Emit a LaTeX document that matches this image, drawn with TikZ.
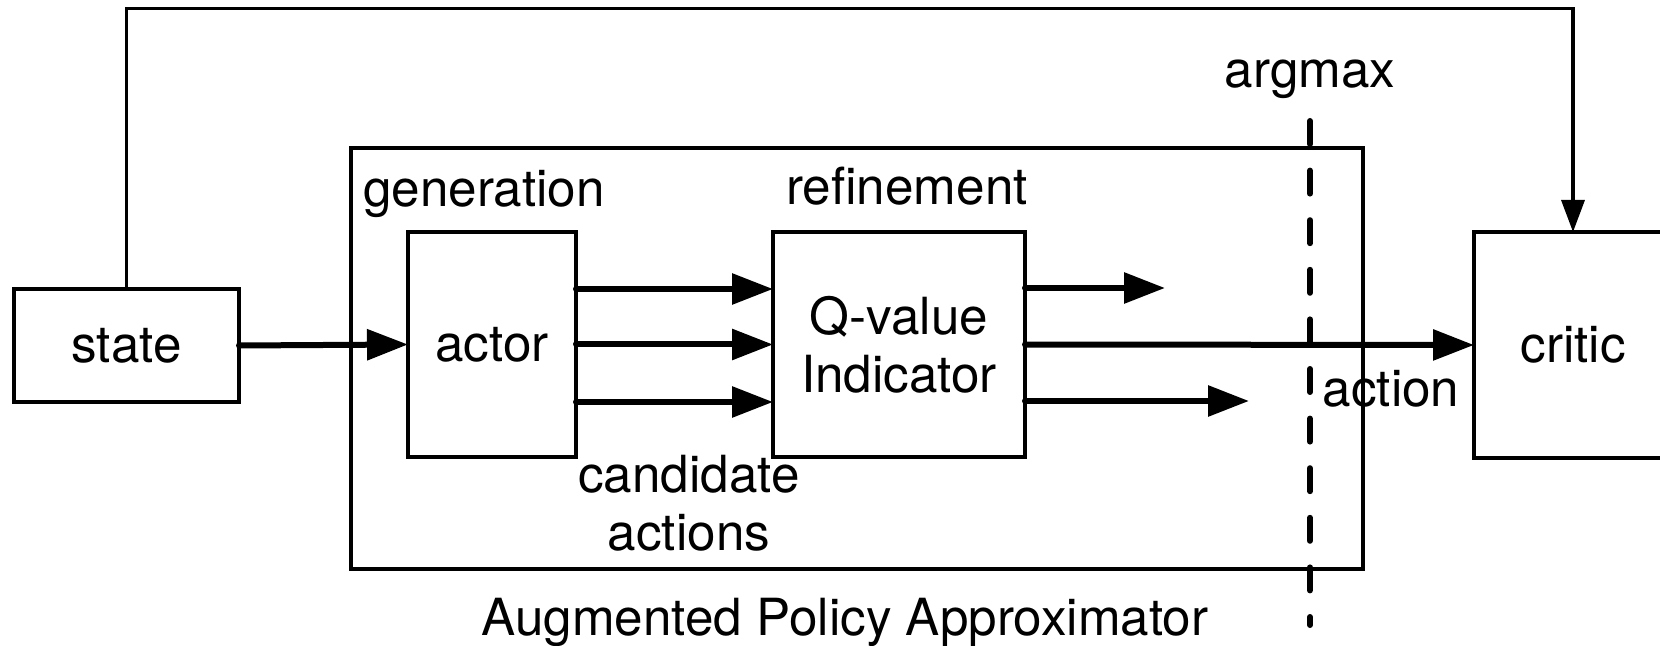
\documentclass[tikz,border=0pt]{standalone}
\usepackage{fontspec}
\setmainfont{TeX Gyre Heros}
\usetikzlibrary{arrows.meta}
\begin{document}
\begin{tikzpicture}[x=0.5pt,y=-0.5pt,
  every node/.style={font=\fontsize{25.6}{29}\selectfont, inner sep=0pt, outer sep=0pt},
  blk/.style={draw, line width=1.7pt, rectangle, align=center},
  thick arrow/.style={line width=3pt, line cap=round, -{Triangle[length=20.5pt,width=15pt]}},
  thin arrow/.style={line width=1.7pt, -{Triangle[length=16pt,width=11.5pt]}},
  lbl/.style={anchor=base}
]
\useasboundingbox (0,0) rectangle (1660,646);
% outer box
\node[blk, minimum width=506pt, minimum height=210.5pt] (apa) at (857,358.5) {};
% blocks
\node[blk, minimum width=112.5pt, minimum height=56.5pt] (state) at (126.5,345.5) {state};
\node[blk, minimum width=84pt, minimum height=112.5pt] (actor) at (492,344.5) {actor};
\node[blk, minimum width=126pt, minimum height=112.5pt] (qv) at (899,344.5) {Q-value\\Indicator};
\node[blk, minimum width=99pt, minimum height=113pt] (critic) at (1573,345) {critic};
% labels
\node[lbl] (gen) at (484,207) {generation};
\node[lbl] (ref) at (907,205) {refinement};
\node[lbl] (argmax) at (1310,88) {argmax};
\node[align=center] (cand) at (689,503.5) {candidate\\actions};
\node[lbl] (act) at (1391,407) {action};
\node[lbl] (apalbl) at (845,635) {Augmented Policy Approximator};
% dashed argmax line
\coordinate (dtop) at (1310,121);
\coordinate (dbot) at (1310,625);
\draw[line width=3pt, line cap=round, dash pattern=on 11.5pt off 13.3pt] (dtop) -- (dbot);
% feedback line
\coordinate (fb) at (800,8.5);
\draw[thin arrow] (state.north) |- (fb) -| (critic.north);
% arrows
\draw[thick arrow] (state.east) -- (actor.west);
\draw[thick arrow] (actor.east |- 0,289) -- (qv.west |- 0,289);
\draw[thick arrow] (actor.east) -- (qv.west);
\draw[thick arrow] (actor.east |- 0,402) -- (qv.west |- 0,402);
\coordinate (o1) at (1165,288);
\coordinate (o3) at (1249,401);
\draw[thick arrow] (qv.east |- o1) -- (o1);
\draw[thick arrow] (qv.east) -- (critic.west);
\draw[thick arrow] (qv.east |- o3) -- (o3);
\end{tikzpicture}
\end{document}
